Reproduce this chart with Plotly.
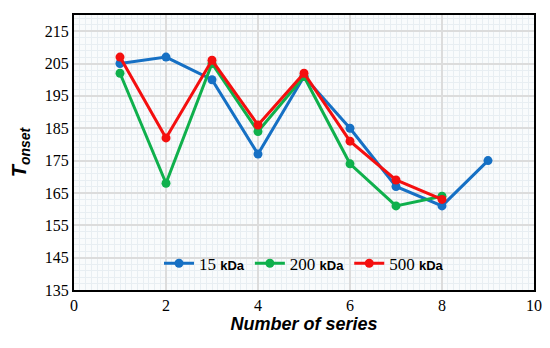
import plotly.graph_objects as go

series_x = [1, 2, 3, 4, 5, 6, 7, 8, 9]
kda15 = [205, 207, 200, 177, 201, 185, 167, 161, 175]
x200 = [1, 2, 3, 4, 5, 6, 7, 8]
kda200 = [202, 168, 205, 184, 201, 174, 161, 164]
x500 = [1, 2, 3, 4, 5, 6, 7, 8]
kda500 = [207, 182, 206, 186, 202, 181, 169, 163]
names = ["15", "200", "500"]
colors = ["#1670c4", "#0fb04c", "#f40f0f"]

serif = "Times New Roman, Liberation Serif, serif"

fig = go.Figure()
for xs, ys, n, c in [(series_x, kda15, names[0], colors[0]),
                     (x200, kda200, names[1], colors[1]),
                     (x500, kda500, names[2], colors[2])]:
    fig.add_trace(go.Scatter(
        x=xs, y=ys, mode="lines+markers",
        name=n + " <span style='font-family:Arial;font-size:13px'><b>kDa</b></span>",
        line=dict(color=c, width=3),
        marker=dict(color=c, size=9),
    ))

fig.update_layout(
    width=542, height=340,
    margin=dict(l=64, r=16, t=5, b=58),
    paper_bgcolor="white",
    plot_bgcolor="#f9fbfc",
    font=dict(family=serif, size=15, color="black"),
    showlegend=True,
    legend=dict(orientation="h", x=0.5, xanchor="center", y=0.03, yanchor="bottom",
                bgcolor="rgba(0,0,0,0)", font=dict(family=serif, size=17),
                itemwidth=30, tracegroupgap=0),
    xaxis=dict(range=[0, 10], dtick=2, tick0=0, showgrid=True, gridcolor="#dcdcdc",
               gridwidth=1.5, zeroline=False, showline=True, linecolor="black",
               linewidth=2, mirror=True, ticks="", ticklen=0,
               tickfont=dict(family=serif, size=16),
               minor=dict(dtick=0.125, showgrid=True, gridcolor="#e8eef2", gridwidth=1),
               title=dict(text="<b><i>Number of series</i></b>",
                          font=dict(family="Arial", size=18), standoff=4)),
    yaxis=dict(range=[135, 220], dtick=10, tick0=135, showgrid=True, gridcolor="#dcdcdc",
               gridwidth=1.5, zeroline=False, showline=True, linecolor="black",
               linewidth=2, mirror=True, ticks="", ticklen=0,
               tickfont=dict(family=serif, size=16),
               minor=dict(dtick=2, tick0=135, showgrid=True, gridcolor="#e8eef2", gridwidth=1),
               title=dict(text="<b><i>T<sub>onset</sub></i></b>",
                          font=dict(family="Arial", size=20), standoff=18)),
)

fig.write_html("out.html")
